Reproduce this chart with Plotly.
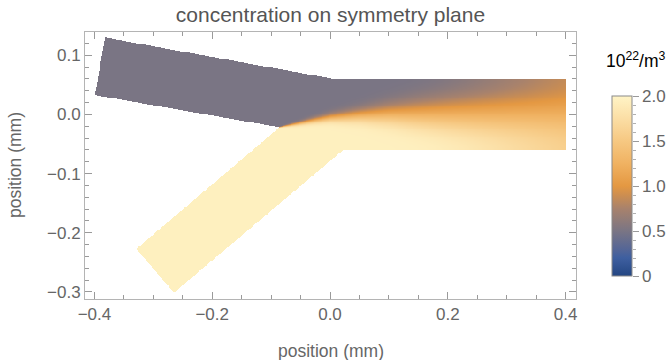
import math
import numpy as np
import plotly.graph_objects as go

# ---------------- data ----------------
# channel outline (mm): upper inlet, outlet, lower inlet
outline_x = [-0.382, 0.005, 0.400, 0.400, 0.0226, -0.265, -0.329, -0.086, -0.399]
outline_y = [0.130, 0.060, 0.060, -0.060, -0.060, -0.302, -0.228, -0.022, 0.0325]

# outlet walls (mm)
wall_low, wall_high = -0.060, 0.060

# inlet concentrations (10^22 / m^3)
c_upper_inlet = 0.5
c_lower_inlet = 1.95

# interface position and mixing width along the channel (mm)
station_x = [-0.086, -0.06, -0.03, 0.0, 0.05, 0.10, 0.20, 0.30, 0.40]
interface_y = [-0.022, -0.017, -0.011, -0.006, -0.002, 0.0, 0.0, 0.0, 0.0]
mix_width = [0.001, 0.004, 0.007, 0.010, 0.016, 0.024, 0.041, 0.058, 0.074]

# colour map of the legend (value -> colour)
cmap_vals = [0.0, 0.2, 0.3, 0.5, 0.75, 0.9, 1.0, 1.25, 1.5, 1.75, 2.0]
cmap_cols = ["rgb(35,70,130)", "rgb(62,95,160)", "rgb(85,102,150)", "rgb(122,117,132)",
             "rgb(168,130,108)", "rgb(205,142,80)", "rgb(228,152,66)", "rgb(240,178,98)",
             "rgb(246,200,130)", "rgb(251,222,165)", "rgb(255,244,198)"]
cbar_ticks = [0, 0.5, 1.0, 1.5, 2.0]
cbar_ticktext = ["0", "0.5", "1.0", "1.5", "2.0"]
x_ticks = [-0.4, -0.2, 0.0, 0.2, 0.4]
y_ticks = [-0.3, -0.2, -0.1, 0.0, 0.1]

# ---------------- field on a grid ----------------
gx = np.arange(-0.41, 0.405, 0.0015)
gy = np.arange(-0.31, 0.136, 0.0015)
X, Y = np.meshgrid(gx, gy)

# point in polygon (ray casting)
px = np.array(outline_x); py = np.array(outline_y)
inside = np.zeros(X.shape, dtype=bool)
n = len(px)
j = n - 1
for i in range(n):
    xi, yi, xj, yj = px[i], py[i], px[j], py[j]
    cond = ((yi > Y) != (yj > Y))
    with np.errstate(divide="ignore", invalid="ignore"):
        xint = (xj - xi) * (Y - yi) / (yj - yi + 1e-30) + xi
    inside ^= cond & (X < xint)
    j = i

erf = np.frompyfunc(math.erf, 1, 1)
s = np.interp(X, station_x, interface_y)
w = np.interp(X, station_x, mix_width)
L = wall_high - wall_low
yc = np.clip(Y, wall_low, wall_high)
u = np.zeros(X.shape)
for k in range(-2, 3):
    u += 0.5 * (erf((yc - s - 2 * k * L) / w).astype(float)
                - erf((yc - (2 * wall_high - s) - 2 * k * L) / w).astype(float))
c = c_lower_inlet + (c_upper_inlet - c_lower_inlet) * u
c = np.where(inside, np.round(c, 3), np.nan)

colorscale = [[v / 2.0, col] for v, col in zip(cmap_vals, cmap_cols)]

# ---------------- figure ----------------
W, H = 672, 360
ml, mr, mt, mb = 85, 5, 32, 61
pw, ph = W - ml - mr, H - mt - mb
xdom_end = 491 / pw
cb_left, cb_right = (611.7 - ml) / pw, (631.7 - ml) / pw
cb_bot = (H - mb - 276) / ph
cb_top = (H - mb - 96) / ph

FONT = "Liberation Sans, Arial, sans-serif"

fig = go.Figure()
fig.add_trace(go.Heatmap(
    x=gx, y=gy, z=c, colorscale=colorscale, zmin=0, zmax=2, zsmooth=False,
    hoverongaps=False,
    colorbar=dict(x=cb_left, xanchor="left", y=cb_bot, yanchor="bottom",
                  lenmode="pixels", len=180, thickness=20, ypad=0, xpad=0,
                  outlinewidth=1, outlinecolor="#8a8a8a",
                  showticklabels=False, ticks=""),
))
# axis carrying the legend ticks
fig.add_trace(go.Scatter(x=[0.5], y=[1.0], xaxis="x2", yaxis="y2",
                         mode="markers", marker=dict(opacity=0), hoverinfo="skip",
                         showlegend=False))

tickfont = dict(family=FONT, size=17, color="#666666")
axis_common = dict(showgrid=False, zeroline=False, showline=True, linecolor="#b4b4b4",
                   linewidth=1, mirror="allticks", ticks="inside", ticklen=7,
                   tickcolor="#9a9a9a", tickwidth=1, tickfont=tickfont)

fig.update_layout(
    width=W, height=H, margin=dict(l=ml, r=mr, t=mt, b=mb),
    paper_bgcolor="white", plot_bgcolor="white",
    showlegend=False,
    font=dict(family=FONT),
    title=dict(text="concentration on symmetry plane", x=330.5 / W, xanchor="center",
               y=1 - 15 / H, yanchor="middle",
               font=dict(family=FONT, size=21, color="#555555")),
    xaxis=dict(domain=[0, xdom_end], range=[-0.416, 0.4177], tickvals=x_ticks,
               tickformat=".1f", minor=dict(dtick=0.05, ticklen=4, tickcolor="#9a9a9a",
                                            ticks="inside"),
               **axis_common),
    yaxis=dict(range=[-0.312, 0.1393], tickvals=y_ticks, tickformat=".1f",
               minor=dict(dtick=0.02, ticklen=4, tickcolor="#9a9a9a", ticks="inside"),
               **axis_common),
    xaxis2=dict(domain=[cb_left, cb_right], range=[0, 1], visible=False, anchor="y2"),
    yaxis2=dict(domain=[cb_bot, cb_top], range=[0, 2], anchor="x2", side="right",
                showgrid=False, zeroline=False, showline=False,
                tickvals=cbar_ticks, ticktext=cbar_ticktext, ticks="outside", ticklen=6,
                tickcolor="#9a9a9a", tickfont=tickfont,
                minor=dict(dtick=0.1, ticklen=3, tickcolor="#b0b0b0", ticks="outside")),
    annotations=[
        dict(text="position (mm)", xref="paper", yref="paper",
             x=(330.5 - ml) / pw, y=(H - mb - 351) / ph, xanchor="center", yanchor="middle",
             showarrow=False, font=dict(family=FONT, size=17.5, color="#666666")),
        dict(text="position (mm)", xref="paper", yref="paper", textangle=-90,
             x=(15 - ml) / pw, y=(H - mb - 165) / ph, xanchor="center", yanchor="middle",
             showarrow=False, font=dict(family=FONT, size=17.5, color="#666666")),
        dict(text="10<sup>22</sup>/m<sup>3</sup>", xref="paper", yref="paper",
             x=(604 - ml) / pw, y=(H - mb - 60) / ph, xanchor="left", yanchor="middle",
             showarrow=False, font=dict(family=FONT, size=17.5, color="#000000")),
    ],
)

fig.write_html("out.html")
